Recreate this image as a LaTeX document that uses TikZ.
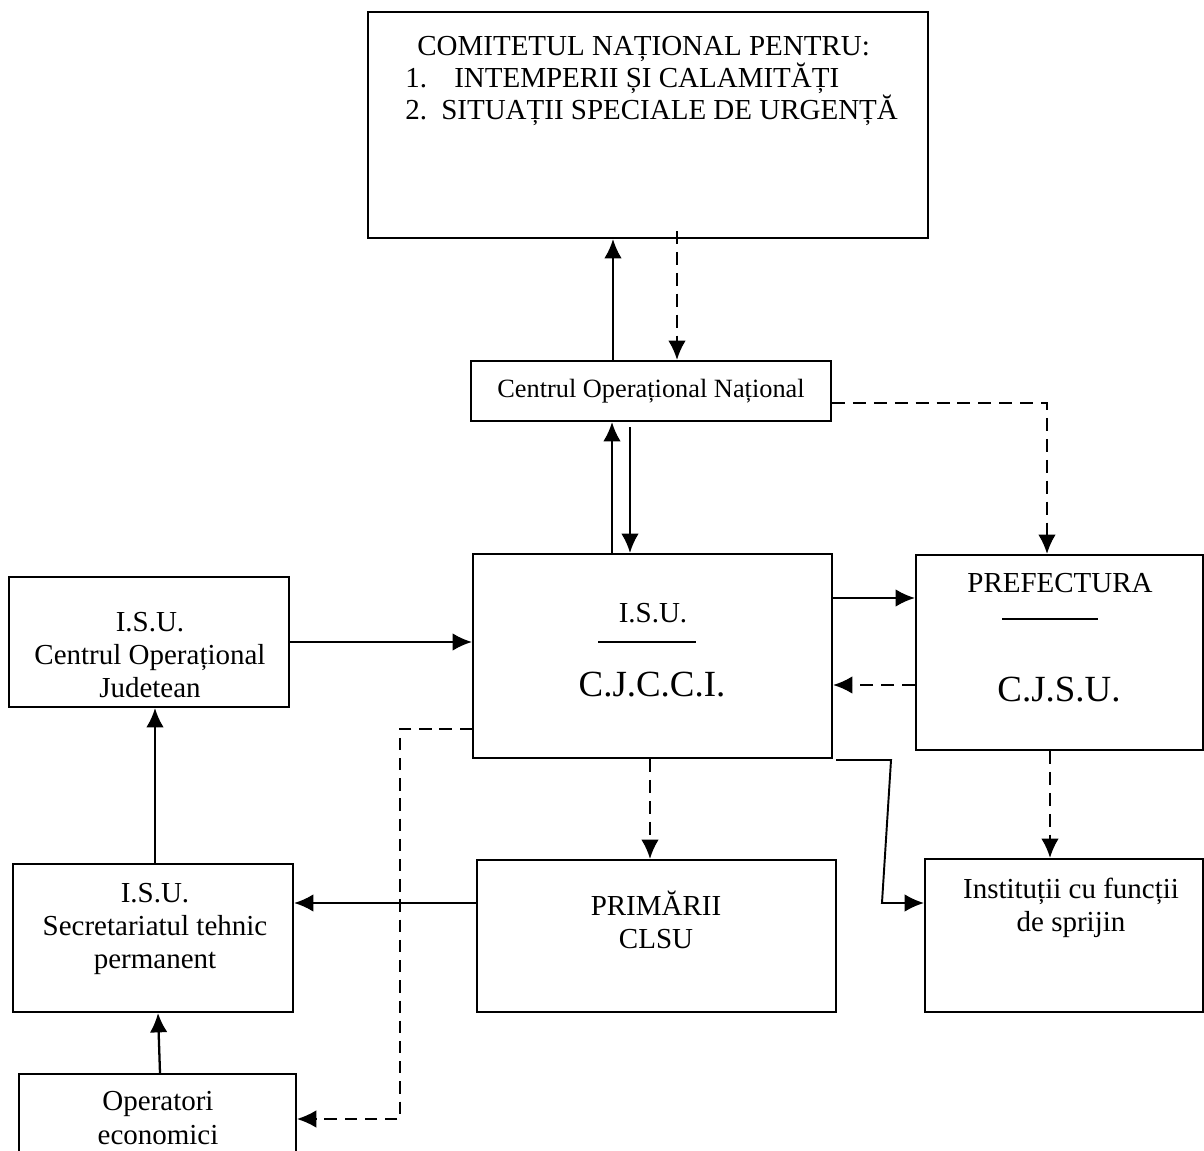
\documentclass[tikz,border=0pt]{standalone}
\usepackage{fontspec}
\setmainfont{Liberation Serif}
\usetikzlibrary{arrows.meta}
\usetikzlibrary{calc}
\tikzset{>={Latex[length=11pt,width=10pt]}}
\tikzset{
    box/.style={draw, line width=1.2pt, inner sep=0pt},
    txt/.style={font=\fontsize{16.5}{19}\selectfont, align=center, inner sep=0pt},
    bigtxt/.style={font=\fontsize{21}{24}\selectfont, inner sep=0pt},
    arr/.style={->, line width=1.3pt},
    darr/.style={->, line width=1.3pt, dash pattern=on 7.4pt off 4.5pt},
    tdarr/.style={->, line width=0.9pt, dash pattern=on 7pt off 4.5pt},
}

\begin{document}
\begin{tikzpicture}[x=0.02cm, y=-0.02cm]
	\useasboundingbox (0,0) rectangle (1204,1151);
	% boxes
	\node[box, minimum width=11.2cm, minimum height=4.52cm] (comitet) at (648,125) {};
	\node[box, minimum width=7.2cm, minimum height=1.2cm, font=\fontsize{15}{17}\selectfont] (con) at (651,391) {Centrul Operațional Național};
	\node[box, minimum width=7.18cm, minimum height=4.08cm] (cjcci) at (652.5,656) {};
	\node[box, minimum width=5.74cm, minimum height=3.9cm] (pref) at (1059.5,652.5) {};
	\node[box, minimum width=5.6cm, minimum height=2.6cm] (coj) at (149,642) {};
	\node[box, minimum width=5.6cm, minimum height=2.96cm] (stp) at (153,938) {};
	\node[box, minimum width=5.54cm, minimum height=1.72cm] (oper) at (157.5,1117) {};
	\node[box, minimum width=7.18cm, minimum height=3.04cm] (prim) at (656.5,936) {};
	\node[box, minimum width=5.56cm, minimum height=3.06cm] (inst) at (1064,935.5) {};
	% texts
	\node[txt, align=left, anchor=north west, font=\fontsize{16.5}{18.2}\selectfont] (comitettxt) at (405,36)
		{\hspace*{0.24cm}COMITETUL NAȚIONAL PENTRU:\\
		\makebox[0.98cm][l]{1.}INTEMPERII ȘI CALAMITĂȚI\\
		\makebox[0.72cm][l]{2.}SITUAȚII SPECIALE DE URGENȚĂ};
	\node[txt] (cjccitop) at (653,613) {I.S.U.};
	\node[bigtxt] (cjccibig) at (652,685) {C.J.C.C.I.};
	\draw[line width=1.2pt] (598,642) -- (696,642);
	\node[txt] (preftop) at (1060,583) {PREFECTURA};
	\node[bigtxt] (prefbig) at (1059,690) {C.J.S.U.};
	\draw[line width=1.2pt] (1002,619) -- (1098,619);
	\node[txt] (cojtxt) at (150,655) {I.S.U.\\Centrul Operațional\\Judetean};
	\node[txt] (stptxt) at (155,929) {I.S.U.\\Secretariatul tehnic\\permanent};
	\node[txt] (opertxt) at (158,1118) {Operatori\\economici};
	\node[txt] (primtxt) at (656,920) {PRIMĂRII\\CLSU};
	\node[txt] (insttxt) at (1071,908) {Instituții cu funcții\\de sprijin};
	% connectors
	\coordinate (upA) at ($(con.north)+(-38,0)$);
	\draw[arr] (upA) -- (upA |- comitet.south);
	\coordinate (dnA) at ($(comitet.south)+(29,-8)$);
	\draw[darr] (dnA) -- (dnA |- con.north);
	\coordinate (upB) at ($(cjcci.north)+(-40.5,0)$);
	\draw[arr] (upB) -- (upB |- con.south);
	\coordinate (dnB) at ($(con.south)+(-21,5)$);
	\draw[arr] (dnB) -- (dnB |- cjcci.north);
	\coordinate (conR) at ($(con.east)+(0,12)$);
	\draw[darr] (conR) -| ($(pref.north)+(-12.5,0)$);
	\coordinate (cjR) at ($(cjcci.east)+(0,-58)$);
	\draw[arr] (cjR) -- (cjR -| pref.west);
	\coordinate (prL) at ($(pref.west)+(0,32.5)$);
	\draw[darr] (prL) -- (prL -| cjcci.east);
	\draw[arr] (coj.east) -- (coj.east -| cjcci.west);
	\coordinate (stpT) at ($(stp.north)+(2,0)$);
	\draw[arr] (stpT) -- (stpT |- coj.south);
	\draw[arr] ($(oper.north)+(2.5,0)$) -- ($(stp.south)+(5,0)$);
	\coordinate (prmL) at ($(prim.west)+(0,-33)$);
	\draw[arr] (prmL) -- (prmL -| stp.east);
	\coordinate (cjB) at ($(cjcci.south)+(-2.5,0)$);
	\draw[darr] (cjB) -- (cjB |- prim.north);
	\coordinate (prB) at ($(pref.south)+(-9.5,0)$);
	\draw[darr] (prB) -- (prB |- inst.north);
	\draw[arr, line width=1.1pt] ($(cjcci.south east)+(3,1)$) -- ++(55,0) -- ($(inst.west)+(-42,-32.5)$) -- ($(inst.west)+(0,-32.5)$);
	\coordinate (cjL) at ($(cjcci.west)+(0,73)$);
	\coordinate (bend) at (400,1119);
	\draw[tdarr] (cjL) -| (bend) -- (bend -| oper.east);
\end{tikzpicture}
\end{document}
